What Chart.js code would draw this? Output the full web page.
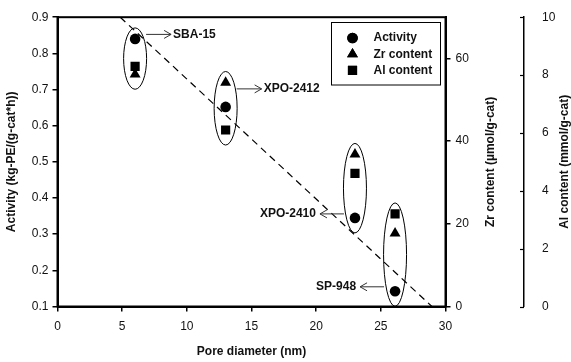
<!DOCTYPE html>
<html>
<head>
<meta charset="utf-8">
<script src="https://cdn.jsdelivr.net/npm/chart.js@4.4.1/dist/chart.umd.min.js"></script>
<style>
  html, body { margin: 0; padding: 0; background: #fff; }
</style>
</head>
<body>
<canvas id="mycanvas" width="571" height="362"></canvas>
<script>
// values
var sampleNames = ['SBA-15', 'XPO-2412', 'XPO-2410', 'SP-948'];
var poreDiameter = [6, 13, 23, 26.1];
var activity = [0.84, 0.652, 0.345, 0.142];
var zrContent = [56.2, 54.2, 36.8, 17.7];
var alContent = [8.3, 6.1, 4.6, 3.2];
var trendX = [4.85, 28.95];
var trendY = [0.9, 0.1];

var FONT = 'Arial, "Liberation Sans", sans-serif';
Chart.defaults.font.family = FONT;
Chart.defaults.color = '#111';

function points(xs, ys) {
  var out = [];
  for (var i in xs) {
    out.push({ x: xs[i], y: ys[i] });
  }
  return out;
}

// label side and arrow offset (px) for each sample
var labelSide = ['right', 'right', 'left', 'left'];
var arrowDy = [-4.5, -18, -4, -4.5];

function drawArrow(ctx, x0, y0, x1) {
  var d = x1 > x0 ? -1 : 1;
  ctx.beginPath();
  ctx.moveTo(x0, y0);
  ctx.lineTo(x1, y0);
  ctx.moveTo(x1 + d * 7, y0 - 4);
  ctx.lineTo(x1, y0);
  ctx.lineTo(x1 + d * 7, y0 + 4);
  ctx.stroke();
}

var decor = {
  id: 'decor',
  afterDatasetsDraw: function(chart) {
    var ctx = chart.ctx;
    var a = chart.chartArea;
    var sx = chart.scales.x, sy = chart.scales.y, sz = chart.scales.yZr, sa = chart.scales.yAl;
    ctx.save();

    // ellipses round each sample and the arrow labels
    ctx.strokeStyle = '#000';
    ctx.lineWidth = 1;
    for (var i = 0; i < sampleNames.length; i++) {
      var px = sx.getPixelForValue(poreDiameter[i]);
      var pa = sy.getPixelForValue(activity[i]);
      var ys = [pa, sz.getPixelForValue(zrContent[i]), sa.getPixelForValue(alContent[i])];
      var top = Math.min.apply(null, ys) - 11;
      var bot = Math.max.apply(null, ys) + 15;
      ctx.strokeStyle = '#000';
      ctx.beginPath();
      ctx.ellipse(px, (top + bot) / 2, 11.5, (bot - top) / 2, 0, 0, Math.PI * 2);
      ctx.stroke();

      var ay = pa + arrowDy[i];
      ctx.strokeStyle = '#333';
      ctx.font = 'bold 12px ' + FONT;
      ctx.fillStyle = '#111';
      ctx.textBaseline = 'middle';
      if (labelSide[i] === 'right') {
        drawArrow(ctx, px + 11, ay, px + 36);
        ctx.textAlign = 'left';
        ctx.fillText(sampleNames[i], px + 38, ay);
      } else {
        drawArrow(ctx, px - 11, ay, px - 35);
        ctx.textAlign = 'right';
        ctx.fillText(sampleNames[i], px - 39, ay);
      }
    }

    // plot frame
    ctx.strokeStyle = '#000';
    ctx.lineWidth = 2;
    ctx.strokeRect(a.left, a.top, a.right - a.left, a.bottom - a.top);

    // inward tick marks on Al axis
    ctx.lineWidth = 1.2;
    sa.ticks.forEach(function(t) {
      var y = Math.round(sa.getPixelForValue(t.value)) + 0.5;
      ctx.beginPath();
      ctx.moveTo(sa.left - 4, y);
      ctx.lineTo(sa.left, y);
      ctx.stroke();
    });

    // right axis titles (read bottom to top)
    ctx.font = 'bold 12px ' + FONT;
    ctx.fillStyle = '#111';
    ctx.textAlign = 'center';
    ctx.textBaseline = 'middle';
    var midY = (a.top + a.bottom) / 2;
    [[491, 'Zr content (\u00b5mol/g-cat)'], [565, 'Al content (mmol/g-cat)']].forEach(function(t) {
      ctx.save();
      ctx.translate(t[0], midY);
      ctx.rotate(-Math.PI / 2);
      ctx.fillText(t[1], 0, 0);
      ctx.restore();
    });

    // legend
    var lx = 331.5, ly = 22.5;
    ctx.lineWidth = 1;
    ctx.strokeStyle = '#000';
    ctx.strokeRect(lx, ly, 109, 62.5);
    var items = chart.data.datasets.filter(function(d) { return d.pointStyle !== false; });
    items.forEach(function(d, k) {
      var cy = ly + 15.5 + k * 16.2;
      ctx.fillStyle = '#000';
      Chart.helpers.drawPoint(ctx, { pointStyle: d.pointStyle, radius: d.pointRadius, rotation: 0, borderWidth: 0 }, lx + 21, cy);
      ctx.fill();
      ctx.fillStyle = '#111';
      ctx.textAlign = 'left';
      ctx.fillText(d.label, lx + 42, cy);
    });

    ctx.restore();
  }
};

var ctx = document.getElementById('mycanvas');

var chart = new Chart(ctx, {
  type: 'scatter',
  data: {
    datasets: [
      {
        label: 'Activity',
        data: points(poreDiameter, activity),
        yAxisID: 'y',
        pointStyle: 'circle',
        pointRadius: 5.3,
        backgroundColor: '#000',
        borderWidth: 0
      },
      {
        label: 'Zr content',
        data: points(poreDiameter, zrContent),
        yAxisID: 'yZr',
        pointStyle: 'triangle',
        pointRadius: 6.3,
        backgroundColor: '#000',
        borderWidth: 0
      },
      {
        label: 'Al content',
        data: points(poreDiameter, alContent),
        yAxisID: 'yAl',
        pointStyle: 'rect',
        pointRadius: 6.5,
        backgroundColor: '#000',
        borderWidth: 0
      },
      {
        type: 'line',
        label: 'trend',
        data: points(trendX, trendY),
        yAxisID: 'y',
        pointStyle: false,
        pointRadius: 0,
        borderColor: '#000',
        borderWidth: 1.2,
        borderDash: [7, 5],
        fill: false,
        tension: 0
      }
    ]
  },
  options: {
    responsive: false,
    animation: false,
    devicePixelRatio: 1,
    layout: { padding: { top: 16, left: 0, right: 0, bottom: 0 } },
    plugins: {
      legend: { display: false },
      tooltip: { enabled: false }
    },
    scales: {
      x: {
        type: 'linear',
        min: 0,
        max: 30,
        ticks: { stepSize: 5, padding: 8, font: { size: 12 }, color: '#111' },
        grid: { drawOnChartArea: false, tickLength: 5, color: '#000', lineWidth: 1.5 },
        border: { display: true, color: '#000', width: 2 },
        title: { display: true, text: 'Pore diameter (nm)', font: { size: 12, weight: 'bold' }, color: '#111', padding: { top: 0, bottom: 3 } },
        afterFit: function(s) { s.height = 55.5; }
      },
      y: {
        type: 'linear',
        position: 'left',
        min: 0.1,
        max: 0.9,
        ticks: { stepSize: 0.1, padding: 4, font: { size: 12 }, color: '#111',
          callback: function(v) { return Number(v).toFixed(1); } },
        grid: { drawOnChartArea: false, tickLength: 5, color: '#000', lineWidth: 1.5 },
        border: { display: true, color: '#000', width: 2 },
        title: { display: true, text: 'Activity (kg-PE/(g-cat*h))', font: { size: 12, weight: 'bold' }, color: '#111', padding: { top: 4.5, bottom: 0 } },
        afterFit: function(s) { s.width = 57.5; }
      },
      yZr: {
        type: 'linear',
        position: 'right',
        weight: 0,
        min: 0,
        max: 70,
        ticks: { stepSize: 20, includeBounds: false, padding: 5, font: { size: 12 }, color: '#111' },
        grid: { drawOnChartArea: false, tickLength: 5, color: '#000', lineWidth: 1.5 },
        border: { display: true, color: '#000', width: 2 },
        afterFit: function(s) { s.width = 78.5; }
      },
      yAl: {
        type: 'linear',
        position: 'right',
        weight: 1,
        min: 0,
        max: 10,
        ticks: { stepSize: 2, padding: 10, font: { size: 12 }, color: '#111' },
        grid: { display: false },
        border: { display: true, color: '#000', width: 1.5 },
        afterFit: function(s) { s.width = 47; }
      }
    }
  },
  plugins: [decor]
});
</script>
</body>
</html>
